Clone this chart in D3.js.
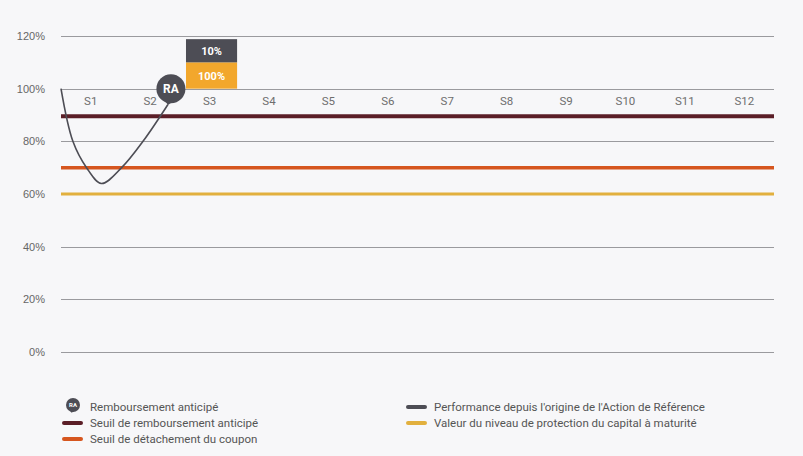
<!DOCTYPE html>
<html>
<head>
<meta charset="utf-8">
<script src="https://cdn.jsdelivr.net/npm/d3@7"></script>
<style>
    body { margin: 0; background: #f7f7f9; }
    svg { display: block; font-family: Roboto, "Liberation Sans", sans-serif; }
    .grid line { stroke: #9a9a9e; stroke-width: 1px; shape-rendering: crispEdges; }
    .yAxis text { font-size: 11px; fill: #666; }
    .cat { font-size: 11.5px; fill: #6e6e6e; }
    .legend text.lbl { font-size: 11.5px; fill: #555; }
</style>
</head>
<body>
<div id="chart"></div>
<script>
    // categories (semesters) and y ticks
    var periods = ["S1", "S2", "S3", "S4", "S5", "S6", "S7", "S8", "S9", "S10", "S11", "S12"];
    var yTicks = [0, 20, 40, 60, 80, 100, 120];

    // threshold levels (%)
    var thresholdNames = ["Seuil de remboursement anticipé", "Seuil de détachement du coupon", "Valeur du niveau de protection du capital à maturité"];
    var thresholdValues = [89.5, 70, 60];
    var thresholdColors = ["#5b1e27", "#d6561f", "#e2b03e"];

    // performance of the reference share, time in semesters from the start
    var perfTime = [0, 0.2, 0.43, 0.68, 1.02, 1.38, 1.8];
    var perfValue = [100, 80, 70, 64, 70, 80, 94];

    // early redemption event
    var raTime = 1.85;
    var raValue = 100;
    var raPeriod = "S3";
    var raBoxes = [
        { label: "100%", from: 100, to: 110, color: "#f2a72c" },
        { label: "10%", from: 110, to: 118.8, color: "#4d4d55" }
    ];

    var width = 803, height = 456;
    var margin = { top: 36, right: 29, bottom: 104, left: 61 };

    var svg = d3.select("#chart")
        .append("svg")
        .attr("width", width)
        .attr("height", height);

    var x = d3.scaleLinear().domain([0, periods.length]).range([margin.left, width - margin.right]);
    var xBand = d3.scaleBand().domain(periods).range([margin.left, width - margin.right]);
    var y = d3.scaleLinear().domain([0, 120]).range([height - margin.bottom, margin.top]);

    // grid lines
    svg.append("g")
        .attr("class", "grid")
        .selectAll("line")
        .data(yTicks)
        .join("line")
        .attr("x1", margin.left)
        .attr("x2", width - margin.right)
        .attr("y1", d => Math.round(y(d)) + 0.5)
        .attr("y2", d => Math.round(y(d)) + 0.5);

    // y axis labels
    var yAxis = svg.append("g")
        .attr("class", "yAxis")
        .attr("transform", "translate(" + (margin.left - 16) + ",0)")
        .call(d3.axisLeft(y).tickValues(yTicks).tickSize(0).tickPadding(0).tickFormat(d => d + "%"));
    yAxis.select(".domain").remove();

    // period labels
    svg.append("g")
        .selectAll("text")
        .data(periods)
        .join("text")
        .attr("class", "cat")
        .attr("x", d => xBand(d) + xBand.bandwidth() / 2)
        .attr("y", y(100) + 16)
        .attr("text-anchor", "middle")
        .text(d => d);

    // thresholds
    var thrWidth = [4, 3.5, 3];
    svg.append("g")
        .selectAll("line")
        .data(thresholdValues)
        .join("line")
        .attr("x1", margin.left)
        .attr("x2", width - margin.right)
        .attr("y1", d => y(d))
        .attr("y2", d => y(d))
        .attr("stroke", (d, i) => thresholdColors[i])
        .attr("stroke-width", (d, i) => thrWidth[i]);

    // performance curve
    var line = d3.line()
        .x(d => x(d[0]))
        .y(d => y(d[1]))
        .curve(d3.curveCatmullRom.alpha(0.5));
    svg.append("path")
        .datum(perfTime.map((t, i) => [t, perfValue[i]]))
        .attr("fill", "none")
        .attr("stroke", "#4d4d55")
        .attr("stroke-width", 1.6)
        .attr("d", line);

    // coupon / capital boxes
    var bw = xBand.bandwidth() * 0.86;
    var bx = xBand(raPeriod) + (xBand.bandwidth() - bw) / 2 + 2;
    var boxes = svg.append("g").selectAll("g").data(raBoxes).join("g");
    boxes.append("rect")
        .attr("x", bx)
        .attr("width", bw)
        .attr("y", d => y(d.to))
        .attr("height", d => y(d.from) - y(d.to))
        .attr("fill", d => d.color);
    boxes.append("text")
        .attr("x", bx + bw / 2)
        .attr("y", d => (y(d.from) + y(d.to)) / 2 + 4)
        .attr("text-anchor", "middle")
        .attr("fill", "#fff")
        .attr("font-size", "11px")
        .attr("font-weight", "bold")
        .text(d => d.label);

    // RA marker (bubble with tail)
    function raMarker(g, cx, cy, r, fs) {
        g.append("path")
            .attr("d", "M" + (cx - r * 0.45) + "," + (cy + r * 0.8) +
                " L" + (cx - r * 0.2) + "," + (cy + r * 1.12) +
                " L" + (cx + r * 0.2) + "," + (cy + r * 0.85) + " Z")
            .attr("fill", "#4d4d55");
        g.append("circle")
            .attr("cx", cx)
            .attr("cy", cy)
            .attr("r", r)
            .attr("fill", "#4d4d55");
        g.append("text")
            .attr("x", cx)
            .attr("y", cy + fs * 0.36)
            .attr("text-anchor", "middle")
            .style("fill", "#fff")
            .style("font-weight", "bold")
            .style("font-size", fs + "px")
            .text("RA");
    }
    raMarker(svg.append("g"), x(raTime), y(raValue), 14.5, 12);

    // legend
    var legend = svg.append("g").attr("class", "legend");
    var legendItems = [
        { label: "Remboursement anticipé", type: "ra", col: 0, row: 0 },
        { label: thresholdNames[0], color: thresholdColors[0], col: 0, row: 1 },
        { label: thresholdNames[1], color: thresholdColors[1], col: 0, row: 2 },
        { label: "Performance depuis l'origine de l'Action de Référence", color: "#4d4d55", col: 1, row: 0 },
        { label: thresholdNames[2], color: thresholdColors[2], col: 1, row: 1 }
    ];
    var colX = [63, 407], rowY = [407, 423, 439];
    legendItems.forEach(function (d) {
        var lx = colX[d.col], ly = rowY[d.row];
        if (d.type === "ra") {
            raMarker(legend.append("g"), lx + 10, ly - 2, 7, 6);
        } else {
            legend.append("line")
                .attr("x1", lx + 1)
                .attr("x2", lx + 18)
                .attr("y1", ly)
                .attr("y2", ly)
                .attr("stroke", d.color)
                .attr("stroke-width", 4)
                .attr("stroke-linecap", "round");
        }
        legend.append("text")
            .attr("class", "lbl")
            .attr("x", lx + 27)
            .attr("y", ly + 4)
            .text(d.label);
    });
</script>
</body>
</html>
